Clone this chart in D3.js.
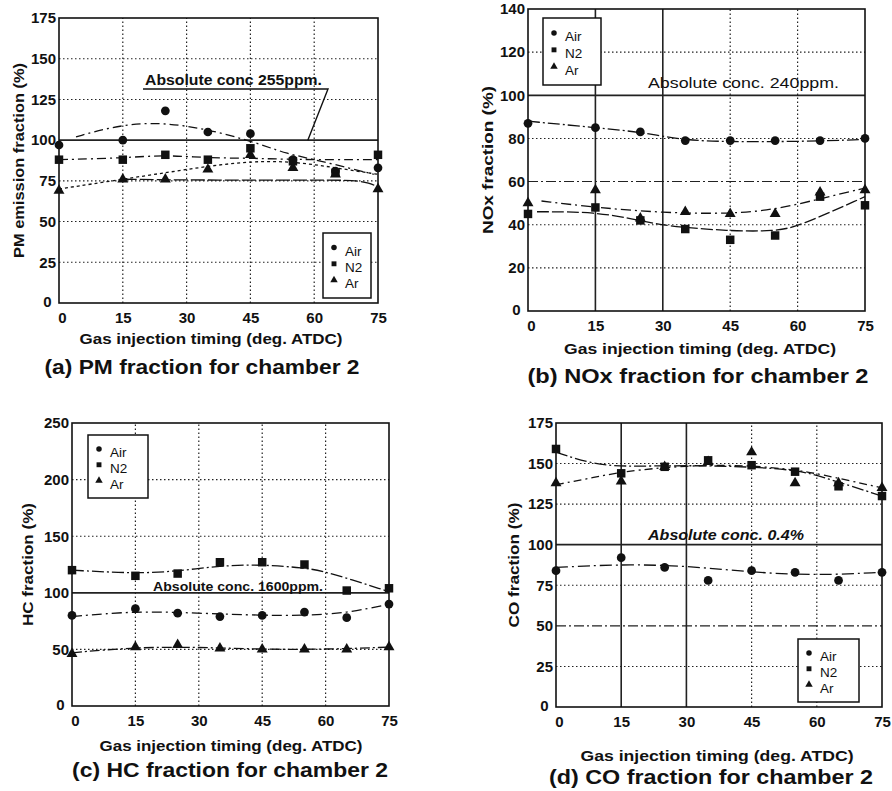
<!DOCTYPE html>
<html>
<head>
<meta charset="utf-8">
<script src="https://cdn.jsdelivr.net/npm/d3@7"></script>
<style>
body { margin: 0; background: #fff; }
svg text { font-family: "Liberation Sans", Arial, sans-serif; fill: #111; }
</style>
</head>
<body>
<div id="chart"></div>
<script>
// injection timings where the points were measured
var timing = [0, 15, 25, 35, 45, 55, 65, 75];
var xTicks = [0, 15, 30, 45, 60, 75];
var gases = ["Air", "N2", "Ar"];

// (a) PM
var pmAir = [97, 100, 118, 105, 104, 88, 81, 83];
var pmN2 = [88, 88, 91, 88, 95, 87, 80, 91];
var pmAr = [69, 76, 76, 82, 91, 83, 79, 70];
var pmAirFit = [[4, 102], [12, 108], [21, 111], [30, 109], [39, 104], [48, 97], [53, 92], [62, 87], [74, 79]];
var pmN2Fit = [[0, 88], [15, 89], [25, 91], [35, 89], [45, 89], [55, 88], [75, 88]];
var pmArFit = [[0, 70], [15, 76], [25, 80], [35, 84], [45, 87], [55, 87], [65, 83], [75, 79]];
var pmArFit2 = [[15, 76], [30, 75.5], [45, 75.5], [60, 75.5], [72, 75.5], [75, 71]];

// (b) NOx
var noxAir = [87, 85, 83, 79, 79, 79, 79, 80];
var noxN2 = [45, 48, 42, 38, 33, 35, 53, 49];
var noxAr = [50, 56, 43, 46, 45, 45, 55, 56];
var noxAirFit = [[0, 88], [15, 85], [25, 83], [35, 79], [45, 78.5], [60, 78.5], [75, 79.5]];
var noxArFit = [[3, 51], [15, 48], [30, 45.5], [45, 45], [55, 47], [65, 52], [75, 57]];
var noxN2Fit = [[2, 46], [15, 46], [25, 42], [30, 39.5], [45, 37], [55, 37], [60, 39], [75, 53]];

// (c) HC
var hcAir = [80, 86, 82, 79, 80, 83, 78, 90];
var hcN2 = [120, 115, 117, 127, 127, 125, 102, 104];
var hcAr = [46, 52, 54, 51, 50, 50, 50, 52];
var hcAirFit = [[0, 79], [15, 84], [30, 82], [45, 80], [55, 80], [65, 82], [75, 90]];
var hcN2Fit = [[0, 120], [15, 117], [25, 119], [35, 124], [45, 125], [55, 122], [60, 119], [75, 101]];
var hcArFit = [[0, 47], [15, 52], [30, 52], [45, 50], [60, 50], [75, 52]];

// (d) CO
var coAir = [84, 92, 86, 78, 84, 83, 78, 83];
var coN2 = [159, 144, 148, 152, 149, 145, 136, 130];
var coAr = [138, 139, 148, 151, 157, 138, 138, 135];
var coAirFit = [[0, 86], [15, 88], [30, 87], [45, 83], [60, 81], [75, 83]];
var coN2Fit = [[0, 157], [8, 150], [15, 148], [30, 149], [45, 148], [55, 146], [60, 143], [75, 130]];
var coArFit = [[0, 137], [8, 141], [15, 145], [30, 149], [45, 149], [55, 146], [60, 144], [75, 135]];

var panels = [
  { box: [59, 18, 378, 303], ymax: 175, step: 25, series: [pmAir, pmN2, pmAr],
    fits: [[pmAirFit, "9,4,2,4"], [pmN2Fit, "9,4,2,4"], [pmArFit, "3,3"], [pmArFit2, "14,3"]],
    solidX: [], dashY: [],
    ytitle: "PM emission fraction (%)", ytitleX: 24, ytitleW: 195,
    xlabelX: 211, xlabelY: 344, xlabelW: 263,
    caption: "(a) PM fraction for chamber 2", captionX: 202, captionY: 374, captionW: 315,
    legend: [323, 233, 48, 65] },
  { box: [528, 9, 865, 311], ymax: 140, step: 20, series: [noxAir, noxN2, noxAr],
    fits: [[noxAirFit, "12,3,2,3"], [noxArFit, "10,4,2,4"], [noxN2Fit, "12,3"]],
    solidX: [15, 30], dashY: [60],
    ytitle: "NOx fraction (%)", ytitleX: 493, ytitleW: 148,
    xlabelX: 700, xlabelY: 354, xlabelW: 272,
    caption: "(b) NOx fraction for chamber 2", captionX: 698, captionY: 383, captionW: 341,
    legend: [543, 18, 58, 67] },
  { box: [72, 423, 389, 706], ymax: 250, step: 50, series: [hcAir, hcN2, hcAr],
    fits: [[hcAirFit, "10,4,2,4"], [hcN2Fit, "12,3,2,3"], [hcArFit, "10,3,2,3"]],
    solidX: [], dashY: [],
    ytitle: "HC fraction (%)", ytitleX: 33, ytitleW: 123,
    xlabelX: 231, xlabelY: 751, xlabelW: 263,
    caption: "(c) HC fraction for  chamber 2", captionX: 230, captionY: 777, captionW: 316,
    legend: [88, 435, 60, 63] },
  { box: [556, 423, 882, 707], ymax: 175, step: 25, series: [coAir, coN2, coAr],
    fits: [[coAirFit, "12,4,2,4"], [coN2Fit, "12,3,2,3"], [coArFit, "8,4,2,4"]],
    solidX: [15, 30], dashY: [50],
    ytitle: "CO fraction (%)", ytitleX: 519, ytitleW: 125,
    xlabelX: 717, xlabelY: 761, xlabelW: 273,
    caption: "(d) CO fraction for chamber 2", captionX: 711, captionY: 784, captionW: 324,
    legend: [798, 639, 61, 63] }
];

var svg = d3.select("#chart").append("svg")
    .attr("width", 892)
    .attr("height", 791);

var symbols = [d3.symbolCircle, d3.symbolSquare, d3.symbolTriangle];
var symSizes = [60, 72, 52];

panels.forEach(function(p) {
  var x = d3.scaleLinear().domain([0, 75]).range([p.box[0], p.box[2]]);
  var y = d3.scaleLinear().domain([0, p.ymax]).range([p.box[3], p.box[1]]);
  var yTicks = d3.range(0, p.ymax + 1, p.step);
  var g = svg.append("g");

  // grid
  g.selectAll(".vg").data(xTicks.slice(1, -1)).enter().append("line")
      .attr("x1", function(d) { return x(d); }).attr("x2", function(d) { return x(d); })
      .attr("y1", y(0)).attr("y2", y(p.ymax))
      .attr("stroke", "#222")
      .attr("stroke-width", function(d) { return p.solidX.indexOf(d) >= 0 ? 1.6 : 1.2; })
      .attr("stroke-dasharray", function(d) { return p.solidX.indexOf(d) >= 0 ? null : "1.5,2.5"; });

  g.selectAll(".hg").data(yTicks.slice(1, -1)).enter().append("line")
      .attr("x1", x(0)).attr("x2", x(75))
      .attr("y1", function(d) { return y(d); }).attr("y2", function(d) { return y(d); })
      .attr("stroke", "#222")
      .attr("stroke-width", function(d) { return d === 100 ? 1.8 : 1.1; })
      .attr("stroke-dasharray", function(d) {
        if (d === 100) return null;
        return p.dashY.indexOf(d) >= 0 ? "10,3,2,3" : "1.5,2.5";
      });

  // frame
  g.append("rect")
      .attr("x", x(0)).attr("y", y(p.ymax))
      .attr("width", x(75) - x(0)).attr("height", y(0) - y(p.ymax))
      .attr("fill", "none").attr("stroke", "#111").attr("stroke-width", 1.6);

  // axes
  var yAxis = g.append("g")
      .attr("transform", "translate(" + x(0) + ",0)")
      .call(d3.axisLeft(y).tickValues(yTicks).tickSize(0).tickPadding(3).tickFormat(d3.format("d")));
  var xAxis = g.append("g")
      .attr("transform", "translate(0," + y(0) + ")")
      .call(d3.axisBottom(x).tickValues(xTicks).tickSize(0).tickPadding(9));
  [yAxis, xAxis].forEach(function(a) {
    a.select(".domain").remove();
    a.selectAll("text")
        .attr("fill", "#111")
        .style("font-size", "15px")
        .style("font-weight", "bold");
  });
  yAxis.selectAll(".tick").filter(function(d) { return d === 0; }).select("text")
      .attr("dx", "-0.3em").attr("dy", "0.2em");
  xAxis.selectAll(".tick").filter(function(d) { return d === 0; }).select("text")
      .attr("dx", "0.2em");

  // fitted curves
  var line = d3.line()
      .curve(d3.curveBasis)
      .x(function(d) { return x(d[0]); })
      .y(function(d) { return y(d[1]); });
  g.selectAll(".fit").data(p.fits).enter().append("path")
      .attr("d", function(d) { return line(d[0]); })
      .attr("fill", "none")
      .attr("stroke", "#111")
      .attr("stroke-width", 1.3)
      .attr("stroke-dasharray", function(d) { return d[1]; });

  // points
  p.series.forEach(function(vals, i) {
    g.selectAll(".pt" + i).data(vals).enter().append("path")
        .attr("transform", function(d, j) { return "translate(" + x(timing[j]) + "," + y(d) + ")"; })
        .attr("d", d3.symbol().type(symbols[i]).size(symSizes[i]))
        .attr("fill", "#111");
  });

  // legend
  var L = p.legend;
  var lg = g.append("g").attr("transform", "translate(" + L[0] + "," + L[1] + ")");
  lg.append("rect").attr("width", L[2]).attr("height", L[3])
      .attr("fill", "#fff").attr("stroke", "#111").attr("stroke-width", 1.5);
  gases.forEach(function(name, i) {
    var yy = L[3] * (0.27 + i * 0.25);
    lg.append("path")
        .attr("transform", "translate(11," + (yy - 3) + ")")
        .attr("d", d3.symbol().type(symbols[i]).size(24))
        .attr("fill", "#111");
    lg.append("text")
        .attr("x", 22).attr("y", yy + 5)
        .style("font-size", "13.5px")
        .text(name);
  });

  // axis titles and caption
  g.append("text")
      .attr("transform", "translate(" + p.ytitleX + "," + (y(0) + y(p.ymax)) / 2 + ")rotate(-90)")
      .attr("text-anchor", "middle")
      .attr("textLength", p.ytitleW).attr("lengthAdjust", "spacingAndGlyphs")
      .style("font-size", "14px").style("font-weight", "bold")
      .text(p.ytitle);
  g.append("text")
      .attr("x", p.xlabelX).attr("y", p.xlabelY)
      .attr("text-anchor", "middle")
      .attr("textLength", p.xlabelW).attr("lengthAdjust", "spacingAndGlyphs")
      .style("font-size", "15px").style("font-weight", "bold")
      .text("Gas injection timing (deg. ATDC)");
  g.append("text")
      .attr("x", p.captionX).attr("y", p.captionY)
      .attr("text-anchor", "middle")
      .attr("textLength", p.captionW).attr("lengthAdjust", "spacingAndGlyphs")
      .style("font-size", "20px").style("font-weight", "bold")
      .text(p.caption);

  p.x = x; p.y = y; p.g = g;
});

// annotations for the 100 % reference level
var pa = panels[0];
pa.g.append("text").attr("x", 145).attr("y", 85)
    .attr("textLength", 177).attr("lengthAdjust", "spacingAndGlyphs")
    .style("font-size", "14px").style("font-weight", "bold")
    .text("Absolute conc 255ppm.");
pa.g.append("path")
    .attr("d", "M143,89H328L" + pa.x(58.5) + "," + pa.y(100))
    .attr("fill", "none").attr("stroke", "#111").attr("stroke-width", 1.4);

var pb = panels[1];
pb.g.append("text").attr("x", 648).attr("y", pb.y(100) - 7)
    .attr("textLength", 191).attr("lengthAdjust", "spacingAndGlyphs")
    .style("font-size", "15px")
    .text("Absolute conc. 240ppm.");

var pc = panels[2];
pc.g.append("text").attr("x", 153).attr("y", pc.y(100) - 2)
    .attr("textLength", 170).attr("lengthAdjust", "spacingAndGlyphs")
    .style("font-size", "13px").style("font-weight", "bold")
    .text("Absolute conc. 1600ppm.");

var pd = panels[3];
pd.g.append("text").attr("x", 648).attr("y", pd.y(100) - 5)
    .attr("textLength", 156).attr("lengthAdjust", "spacingAndGlyphs")
    .style("font-size", "14px").style("font-style", "italic").style("font-weight", "bold")
    .text("Absolute conc. 0.4%");
</script>
</body>
</html>
